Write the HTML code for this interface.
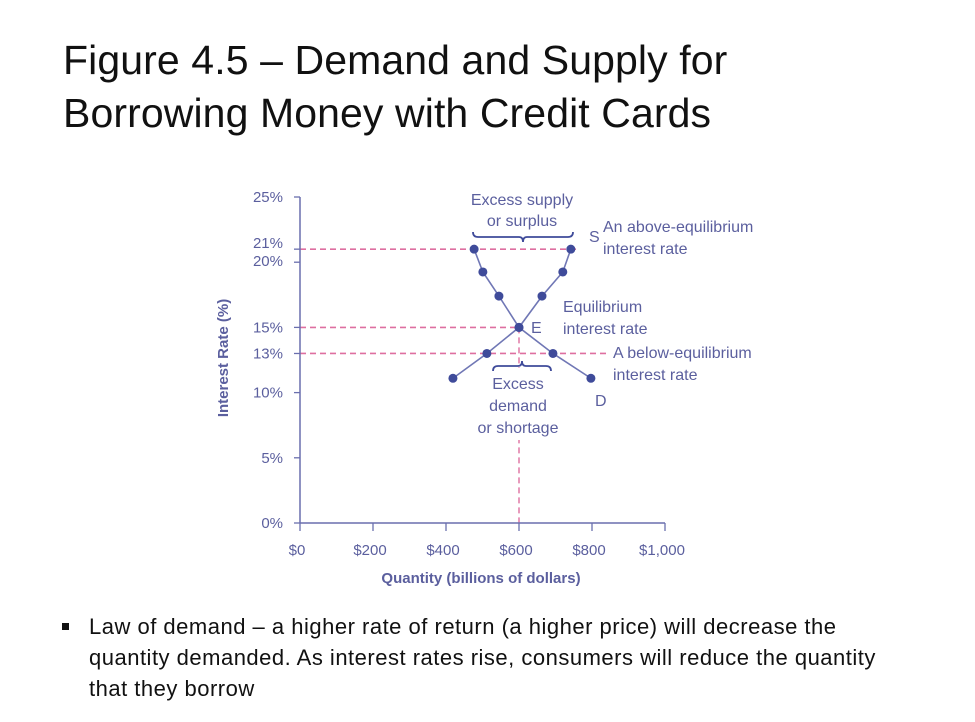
<!DOCTYPE html>
<html><head><meta charset="utf-8"><style>
body{margin:0;width:975px;height:722px;background:#fff;overflow:hidden;position:relative;font-family:"Liberation Sans",sans-serif}
#title{position:absolute;left:63px;top:34px;font-size:41px;line-height:53px;color:#111;margin:0;font-weight:normal;letter-spacing:0.1px}
#bullet{position:absolute;left:62px;top:611px;font-size:22px;line-height:31px;color:#111;width:900px;white-space:nowrap;letter-spacing:0.5px}
#bullet .sq{position:absolute;left:0;top:12px;width:7px;height:7px;background:#111}
#bullet p{margin:0 0 0 27px}
svg{position:absolute;left:0;top:0}
svg text{font-family:"Liberation Sans",sans-serif;fill:#5b5f9e}
</style></head><body>
<h1 id="title">Figure 4.5 – Demand and Supply for<br>Borrowing Money with Credit Cards</h1>
<svg id="chart" width="975" height="722"></svg>
<div id="bullet"><div class="sq"></div><p>Law of demand – a higher rate of return (a higher price) will decrease the<br>quantity demanded. As interest rates rise, consumers will reduce the quantity<br>that they borrow</p></div>
<script>
const xTicks=[0,200,400,600,800,1000];
const xTickLabels=["$0","$200","$400","$600","$800","$1,000"];
const yTicks=[0,5,10,13,15,20,21,25];
const yTickLabels=["0%","5%","10%","13%","15%","20%","21%","25%"];
const demandQ=[477,501,545,600,693,797];
const demandR=[21,19.25,17.4,15,13,11.1];
const supplyQ=[419,512,600,663,720,742];
const supplyR=[11.1,13,15,17.4,19.25,21];
const eqQ=600, eqR=15, highR=21, lowR=13;

const NS="http://www.w3.org/2000/svg";
const svg=document.getElementById('chart');
const X=v=>300+v*0.365;
const Y=v=>523-v*13.04;
const AX="#6a6fae", DOT="#3f4b9a", PINK="#de6fa0";
function mk(t,a,parent){const e=document.createElementNS(NS,t);for(const k in a)e.setAttribute(k,a[k]);(parent||svg).appendChild(e);return e;}
function txt(x,y,s,size,anchor,extra){const e=mk('text',Object.assign({x:x,y:y,'font-size':size,'text-anchor':anchor||'start'},extra||{}));e.textContent=s;return e;}

let g=mk('line',{x1:X(0),y1:Y(highR),x2:X(760),y2:Y(highR),stroke:PINK,'stroke-width':1.6,'stroke-dasharray':'6,4'});

g=mk('line',{x1:X(0),y1:Y(eqR),x2:X(eqQ),y2:Y(eqR),stroke:PINK,'stroke-width':1.6,'stroke-dasharray':'6,4'});

g=mk('line',{x1:X(0),y1:Y(lowR),x2:X(840),y2:Y(lowR),stroke:PINK,'stroke-width':1.6,'stroke-dasharray':'6,4'});

g=mk('line',{x1:X(eqQ),y1:Y(eqR),x2:X(eqQ),y2:Y(0),stroke:PINK,'stroke-width':1.4,'stroke-dasharray':'6,4'});

mk('rect',{x:463,y:368,width:110,height:72,fill:'#fff'});

let a=mk('line',{x1:X(0),y1:Y(25),x2:X(0),y2:Y(0),stroke:AX,'stroke-width':1.5});

a=mk('line',{x1:X(0),y1:Y(0),x2:X(1000),y2:Y(0),stroke:AX,'stroke-width':1.5});

xTicks.forEach((v,i)=>{
  mk('line',{x1:X(v),y1:Y(0),x2:X(v),y2:Y(0)+8,stroke:AX,'stroke-width':1.3});
  const t=txt(X(v)-3,555,xTickLabels[i],15,'middle');
  
});
yTicks.forEach((v,i)=>{
  mk('line',{x1:X(0)-6,y1:Y(v),x2:X(0),y2:Y(v),stroke:AX,'stroke-width':1.3});
  const t=txt(283,Y(v)+(v===21?-1:v===20?4:5),yTickLabels[i],15,'end');
  
});
let t=txt(481,583,'Quantity (billions of dollars)',15,'middle',{'font-weight':'bold'});

t=txt(0,0,'Interest Rate (%)',15,'middle',{'font-weight':'bold',transform:'translate(228,358) rotate(-90)'});


function curve(q,r,name){
  const pts=q.map((v,i)=>X(v)+','+Y(r[i])).join(' ');
  const l=mk('polyline',{points:pts,fill:'none',stroke:'#7077b5','stroke-width':1.6});
  
  q.forEach((v,i)=>{const c=mk('circle',{cx:X(v),cy:Y(r[i]),r:4.5,fill:DOT});
    });
}
curve(demandQ,demandR,'demand');
curve(supplyQ,supplyR,'supply');

function brace(x1,x2,y,up){const m=(x1+x2)/2,d=up?-1:1;
  mk('path',{d:`M${x1},${y+5*d} Q${x1},${y} ${x1+5},${y} L${m-4},${y} Q${m},${y} ${m},${y-5*d} Q${m},${y} ${m+4},${y} L${x2-5},${y} Q${x2},${y} ${x2},${y+5*d}`,fill:'none',stroke:DOT,'stroke-width':1.8});}
brace(473,573,237,true);
brace(493,551,366,false);

[['Excess supply',522,205,'middle',16],['or surplus',522,226,'middle',16],['S',589,242,'start',16],
 ['An above-equilibrium',603,232,'start',16],['interest rate',603,254,'start',16],
 ['Equilibrium',563,312,'start',16],['interest rate',563,334,'start',16],['E',531,333,'start',16],
 ['A below-equilibrium',613,358,'start',16],['interest rate',613,380,'start',16],
 ['Excess',518,389,'middle',16],['demand',518,411,'middle',16],['or shortage',518,433,'middle',16],['D',595,406,'start',16]
].forEach(d=>{const e=txt(d[1],d[2],d[0],d[4],d[3]);});
</script>
</body></html>
